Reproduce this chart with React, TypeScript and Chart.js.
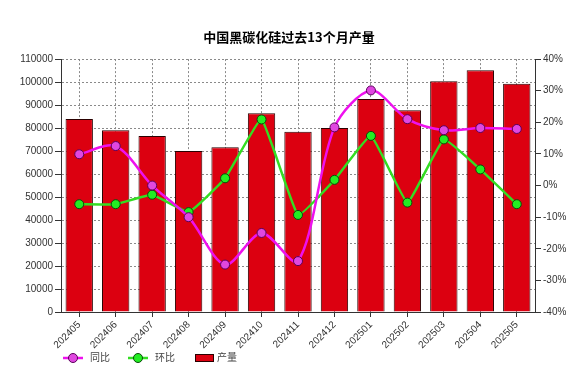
import React, { useEffect, useRef } from "react";
import { Chart, registerables } from "chart.js";

Chart.register(...registerables);

const categories = ["202405", "202406", "202407", "202408", "202409", "202410", "202411", "202412", "202501", "202502", "202503", "202504", "202505"];
const production = [84000, 79000, 76500, 70000, 71700, 86500, 78400, 80000, 92600, 87700, 100400, 105200, 99300];
const yoy = [9.9, 12.5, 0, -10, -25, -15, -23.9, 18.4, 30.1, 21, 17.5, 18.2, 17.9];
const mom = [-5.9, -5.9, -2.9, -8.4, 2.3, 20.9, -9.3, 1.8, 15.7, -5.4, 14.6, 5.1, -5.9];
const seriesNames = ["同比", "环比", "产量"];
const title = "中国黑碳化硅过去13个月产量";

const FONT = '"Liberation Sans", "Noto Sans CJK SC", sans-serif';

const legendPlugin = {
  id: "customLegend",
  afterDraw(chart: any) {
    const ctx = chart.ctx;
    const ds = chart.data.datasets;
    const y = 358;
    ctx.save();
    ctx.font = `10px ${FONT}`;
    ctx.textBaseline = "middle";
    ctx.textAlign = "left";
    const starts = [63, 128, 195];
    ds.forEach((d: any, i: number) => {
      const x = starts[i];
      if (d.type === "line") {
        ctx.strokeStyle = d.borderColor;
        ctx.lineWidth = 2.5;
        ctx.beginPath();
        ctx.moveTo(x, y);
        ctx.lineTo(x + 20, y);
        ctx.stroke();
        ctx.beginPath();
        ctx.arc(x + 10, y, 4.5, 0, Math.PI * 2);
        ctx.fillStyle = d.pointBackgroundColor;
        ctx.fill();
        ctx.lineWidth = 1;
        ctx.strokeStyle = d.pointBorderColor;
        ctx.stroke();
        ctx.fillStyle = "#444";
        ctx.fillText(d.label, x + 27, y);
      } else {
        ctx.fillStyle = d.backgroundColor;
        ctx.fillRect(x, y - 3.5, 18, 7);
        ctx.strokeStyle = d.borderColor;
        ctx.lineWidth = 1;
        ctx.strokeRect(x + 0.5, y - 3.5, 18, 7);
        ctx.fillStyle = "#444";
        ctx.fillText(d.label, x + 22, y);
      }
    });
    ctx.restore();
  },
};

export default function App() {
  const ref = useRef<HTMLCanvasElement | null>(null);
  useEffect(() => {
    if (!ref.current) return;
    Chart.defaults.font.family = FONT;
    const gridColor = "#8a8a8a";
    const chart = new Chart(ref.current, {
      type: "bar",
      data: {
        labels: categories,
        datasets: [
          {
            type: "line",
            label: seriesNames[0],
            data: yoy,
            yAxisID: "y1",
            borderColor: "#ee11ee",
            backgroundColor: "#ee11ee",
            borderWidth: 2.5,
            tension: 0.3,
            pointRadius: 4.5,
            pointBackgroundColor: "#e047e0",
            pointBorderColor: "#5a005a",
            pointBorderWidth: 1,
          } as any,
          {
            type: "line",
            label: seriesNames[1],
            data: mom,
            yAxisID: "y1",
            borderColor: "#33dd22",
            backgroundColor: "#33dd22",
            borderWidth: 2.5,
            tension: 0.1,
            pointRadius: 4.5,
            pointBackgroundColor: "#22ee22",
            pointBorderColor: "#0a4a0a",
            pointBorderWidth: 1,
          } as any,
          {
            type: "bar",
            label: seriesNames[2],
            data: production,
            yAxisID: "y",
            backgroundColor: "#dc0010",
            borderColor: "#2a0000",
            borderWidth: 1,
            barPercentage: 0.75,
            categoryPercentage: 1,
          } as any,
        ],
      },
      options: {
        responsive: false,
        animation: false,
        layout: { padding: { left: 0, right: 0, top: 0, bottom: 0 } },
        plugins: {
          legend: { display: false },
          tooltip: { enabled: false },
          title: {
            display: true,
            text: title,
            color: "#000",
            font: { size: 13, weight: "bold", family: '"Noto Sans CJK SC", sans-serif' },
            padding: { top: 29, bottom: 14.5 },
          },
        },
        scales: {
          x: {
            grid: { offset: false, color: gridColor, tickLength: 5, tickColor: "#333" },
            border: { color: "#333", width: 1, dash: [2, 2] },
            ticks: { font: { size: 10 }, color: "#333", minRotation: 45, maxRotation: 45, autoSkip: false, padding: 2 },
            afterFit: (s: any) => { s.height = 69; },
          },
          y: {
            position: "left",
            min: 0,
            max: 110000,
            grid: { color: gridColor, tickLength: 6, tickColor: "#333" },
            border: { color: "#333", width: 1, dash: [2, 2] },
            ticks: { stepSize: 10000, font: { size: 10 }, color: "#333", padding: 2, callback: (v: any) => String(v) },
            afterFit: (s: any) => { s.width = 61; },
          },
          y1: {
            position: "right",
            min: -40,
            max: 40,
            grid: { drawOnChartArea: false, color: gridColor, tickLength: 6, tickColor: "#333" },
            border: { color: "#333", width: 1 },
            ticks: { stepSize: 10, font: { size: 10 }, color: "#333", padding: 2, callback: (v: any) => v + "%" },
            afterFit: (s: any) => { s.width = 43; },
          },
        },
      } as any,
      plugins: [legendPlugin],
    });
    return () => chart.destroy();
  }, []);
  return (
    <div style={{ position: "fixed", left: 0, top: 0, width: 578, height: 381, background: "#fff" }}>
      <canvas ref={ref} width={578} height={381} />
    </div>
  );
}
